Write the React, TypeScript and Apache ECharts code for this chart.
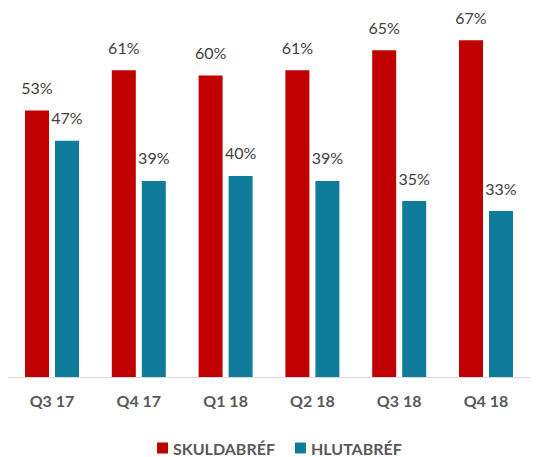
import React, { useEffect, useRef } from "react";
import * as echarts from "echarts";

const categories = ["Q3 17", "Q4 17", "Q1 18", "Q2 18", "Q3 18", "Q4 18"];
const skuldabref = [53, 61, 60, 61, 65, 67];
const hlutabref = [47, 39, 40, 39, 35, 33];
const seriesNames = ["SKULDABRÉF", "HLUTABRÉF"];

export default function App() {
  const ref = useRef<HTMLDivElement>(null);
  useEffect(() => {
    document.body.style.margin = "0";
    if (!ref.current) return;
    const chart = echarts.init(ref.current, null, { renderer: "svg" });
    const font = "Lato, 'Open Sans', sans-serif";
    const label = {
      show: true,
      position: "top",
      distance: 15,
      formatter: "{c}%",
      color: "#404040",
      fontSize: 16,
      fontFamily: font,
    };
    chart.setOption({
      animation: false,
      grid: { left: 8.6, right: 16.6, top: 0, bottom: 80, containLabel: false },
      legend: {
        bottom: -4,
        left: 152,
        itemWidth: 11,
        itemHeight: 11,
        itemGap: 20,
        icon: "rect",
        textStyle: { color: "#595959", fontSize: 16, fontWeight: "bold", fontFamily: font },
        data: seriesNames,
      },
      xAxis: {
        type: "category",
        data: categories,
        axisLine: { lineStyle: { color: "#D9D9D9", width: 1 } },
        axisTick: { show: false },
        axisLabel: { color: "#595959", fontSize: 16, fontWeight: "bold", fontFamily: font, margin: 15 },
      },
      yAxis: { type: "value", min: 0, max: 75, show: false, splitLine: { show: false } },
      series: [
        {
          name: seriesNames[0],
          type: "bar",
          data: skuldabref,
          barWidth: 24,
          barGap: "25%",
          itemStyle: { color: "#C00000" },
          label,
        },
        {
          name: seriesNames[1],
          type: "bar",
          data: hlutabref,
          barWidth: 24,
          itemStyle: { color: "#107C9C" },
          label,
        },
      ],
    });
    return () => chart.dispose();
  }, []);
  return <div ref={ref} style={{ width: 546, height: 457 }} />;
}
